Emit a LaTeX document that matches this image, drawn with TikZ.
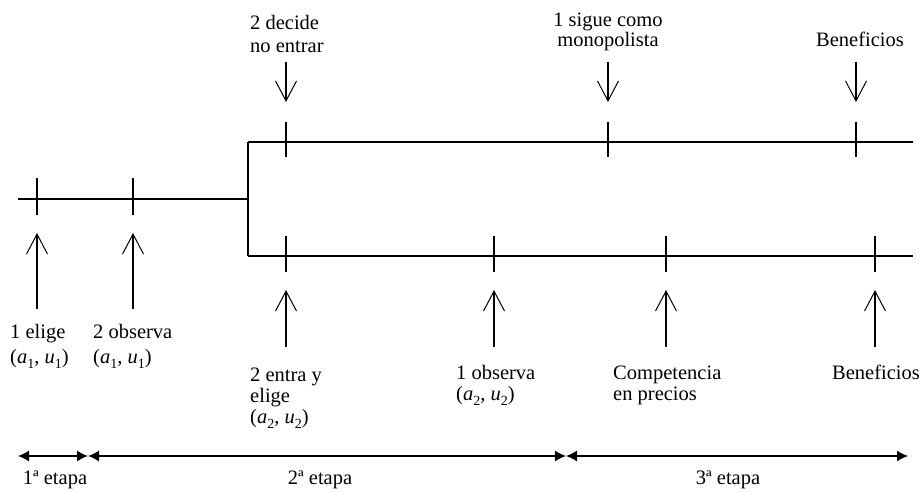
\documentclass[tikz,border=0pt]{standalone}
\usepackage{fontspec}
\setmainfont{Liberation Serif}
\usetikzlibrary{arrows.meta}
\newcommand{\pairab}[3]{(\textit{#1}\raisebox{-0.6ex}{\fontsize{14}{14}\selectfont #2}, \textit{#3}\raisebox{-0.6ex}{\fontsize{14}{14}\selectfont #2})}
\tikzset{
  tline/.style={line width=1.2pt},
  tickmark/.style={line width=1.2pt},
  evtarrow/.style={line width=1.2pt,-{Straight Barb[length=20pt,width=21pt,line width=1pt]}},
  stagearrow/.style={line width=1.3pt,{Latex[length=11pt,width=11pt]}-{Latex[length=11pt,width=11pt]}},
  lblL/.style={inner sep=0pt, anchor=base west, align=left, font=\fontsize{20.5}{#1}\selectfont},
  lblC/.style={inner sep=0pt, anchor=base, align=center, font=\fontsize{20.5}{#1}\selectfont}
}
\begin{document}
\begin{tikzpicture}[x=1pt,y=-1pt]
\useasboundingbox (0,0) rectangle (923,492);
% main line
\coordinate (m0) at (18,199);
\coordinate (br) at (248,199);
\coordinate (u0) at (248,142);
\coordinate (u1) at (913,142);
\coordinate (l0) at (248,256);
\coordinate (l1) at (913,256);
\draw[tline] (m0) -- (br);
\draw[tline] (u0) -- (l0);
\draw[tline] (u0) -- (u1);
\draw[tline] (l0) -- (l1);
% ticks main
\foreach \x/\n in {37/ta,133/tb} {
  \coordinate (\n t) at (\x,178);
  \coordinate (\n b) at (\x,215);
  \draw[tickmark] (\n t) -- (\n b);
}
% ticks upper
\foreach \x/\n in {286/uc,608/ud,856/ue} {
  \coordinate (\n t) at (\x,122);
  \coordinate (\n b) at (\x,157);
  \draw[tickmark] (\n t) -- (\n b);
}
% ticks lower
\foreach \x/\n in {286/lc,494/ld,666/le,875/lf} {
  \coordinate (\n t) at (\x,236);
  \coordinate (\n b) at (\x,272);
  \draw[tickmark] (\n t) -- (\n b);
}
% down arrows (top)
\foreach \x/\n in {286/dc,608/dd,856/de} {
  \coordinate (\n s) at (\x,62);
  \coordinate (\n e) at (\x,102);
  \draw[evtarrow] (\n s) -- (\n e);
}
% up arrows (left)
\foreach \x/\n in {37/pa,133/pb} {
  \coordinate (\n s) at (\x,309);
  \coordinate (\n e) at (\x,233);
  \draw[evtarrow] (\n s) -- (\n e);
}
% up arrows (lower branch)
\foreach \x/\n in {286/pc,494/pd,666/pe,875/pf} {
  \coordinate (\n s) at (\x,347);
  \coordinate (\n e) at (\x,290);
  \draw[evtarrow] (\n s) -- (\n e);
}
% top labels (anchor = baseline of last line)
\node[lblL=23] (t1) at (250,53) {2 decide\\no entrar};
\node[lblC=20] (t2) at (608,47) {1 sigue como\\monopolista};
\node[lblC=20] (t3) at (860,47) {Beneficios};
% bottom labels
\node[lblL=24.5] (b1) at (10,363) {1 elige\\\pairab{a}{1}{u}};
\node[lblL=24.5] (b2) at (93,363) {2 observa\\\pairab{a}{1}{u}};
\node[lblL=21] (b3) at (250,423) {2 entra y\\elige\\\pairab{a}{2}{u}};
\node[lblL=21] (b4) at (456,400) {1 observa\\\pairab{a}{2}{u}};
\node[lblL=21] (b5) at (613,400) {Competencia\\en precios};
\node[lblL=21] (b6) at (832,379) {Beneficios};
% stages
\coordinate (s0) at (18,456);
\coordinate (s1) at (88,456);
\coordinate (s2) at (566,456);
\coordinate (s3) at (908,456);
\draw[stagearrow] (s0) -- (s1);
\draw[stagearrow] (s1) -- (s2);
\draw[stagearrow] (s2) -- (s3);
\node[lblC=21] (e1) at (55,484) {1ª etapa};
\node[lblC=21] (e2) at (320,484) {2ª etapa};
\node[lblC=21] (e3) at (728,484) {3ª etapa};
\end{tikzpicture}
\end{document}
